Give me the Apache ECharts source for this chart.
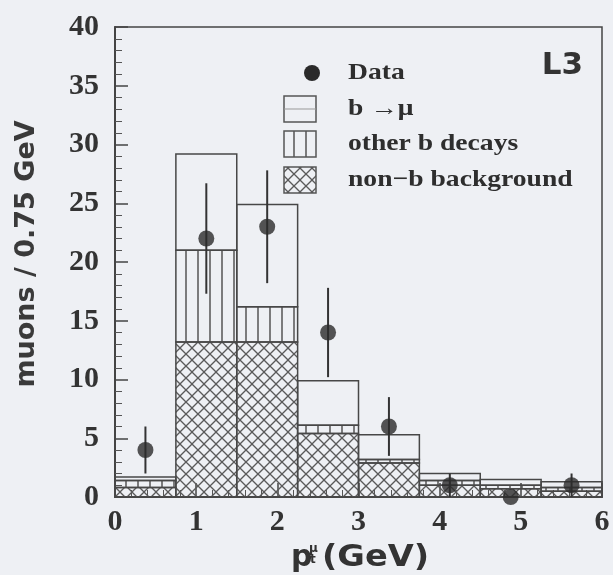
<!DOCTYPE html>
<html><head><meta charset="utf-8">
<script src="https://cdn.jsdelivr.net/npm/echarts@6/dist/echarts.min.js"></script>
<style>html,body{margin:0;padding:0;background:#eef0f4;} #c{width:613px;height:575px;}</style>
</head><body><div id="c"></div>
<script>
// ---- data ----
const binEdges = [0, 0.75, 1.5, 2.25, 3.0, 3.75, 4.5, 5.25, 6.0];
const nonB   = [0.8, 13.2, 13.2, 5.4, 2.9, 1.0, 0.7, 0.5];
const otherB = [0.6, 7.8, 3.0, 0.7, 0.3, 0.4, 0.3, 0.3];
const bToMu  = [0.3, 8.2, 8.7, 3.8, 2.1, 0.6, 0.5, 0.5];
const dataY   = [4, 22, 23, 14, 6, 1, 0, 1];
const dataErr = [2, 4.7, 4.8, 3.8, 2.5, 1, 0, 1];
const xTicks = [0, 1, 2, 3, 4, 5, 6];
const yTicks = [0, 5, 10, 15, 20, 25, 30, 35, 40];

// ---- hatch patterns ----
function crossCanvas() {
  const s = 12, c = document.createElement('canvas'); c.width = s; c.height = s;
  const g = c.getContext('2d'); g.strokeStyle = '#5a5a5a'; g.lineWidth = 1.3;
  g.beginPath(); g.moveTo(-1, s + 1); g.lineTo(s + 1, -1); g.stroke();
  g.beginPath(); g.moveTo(-1, -1); g.lineTo(s + 1, s + 1); g.stroke();
  return c;
}
function vertCanvas() {
  const c = document.createElement('canvas'); c.width = 12; c.height = 4;
  const g = c.getContext('2d'); g.strokeStyle = '#555'; g.lineWidth = 1.5;
  g.beginPath(); g.moveTo(6, 0); g.lineTo(6, 4); g.stroke();
  return c;
}
const crossPat = { image: crossCanvas(), repeat: 'repeat' };
const vertPat = { image: vertCanvas(), repeat: 'repeat' };

function layerData(layer, below) {
  return layer.map((v, i) => {
    const base = below.reduce((s, arr) => s + arr[i], 0);
    return [binEdges[i], binEdges[i + 1], base, base + v];
  });
}
function rectRender(fill) {
  return function (params, api) {
    const p0 = api.coord([api.value(0), api.value(2)]);
    const p1 = api.coord([api.value(1), api.value(3)]);
    return {
      type: 'rect',
      shape: { x: p0[0], y: p1[1], width: p1[0] - p0[0], height: p0[1] - p1[1] },
      style: { fill: fill, stroke: '#474747', lineWidth: 1.5 }
    };
  };
}
const centers = binEdges.slice(0, -1).map((e, i) => (e + binEdges[i + 1]) / 2);

const lblFont = { fontFamily: 'Liberation Serif', fontWeight: 'bold', fontSize: 30, color: '#333' };
const legFont = 'bold 23px "Liberation Serif"';
const sansB = '"DejaVu Sans"';

const chart = echarts.init(document.getElementById('c'), null, { renderer: 'canvas' });
chart.setOption({
  backgroundColor: '#eef0f4',
  animation: false,
  grid: { left: 115, right: 11, top: 27, bottom: 78, show: true, borderColor: '#444', borderWidth: 1.5, backgroundColor: 'transparent' },
  xAxis: {
    type: 'value', min: xTicks[0], max: xTicks[xTicks.length - 1], interval: 1,
    axisLine: { lineStyle: { color: '#444', width: 2 } },
    axisTick: { inside: true, length: 14, lineStyle: { color: '#444', width: 1.5 } },
    minorTick: { show: true, splitNumber: 5, length: 7, lineStyle: { color: '#555', width: 1 } },
    splitLine: { show: false },
    axisLabel: Object.assign({ margin: 10 }, lblFont)
  },
  yAxis: {
    type: 'value', min: yTicks[0], max: yTicks[yTicks.length - 1], interval: 5,
    axisLine: { lineStyle: { color: '#444', width: 2 } },
    axisTick: { inside: true, length: 13, lineStyle: { color: '#444', width: 1.5 } },
    minorTick: { show: true, splitNumber: 5, length: 7, lineStyle: { color: '#555', width: 1 } },
    splitLine: { show: false },
    axisLabel: Object.assign({ margin: 16 }, lblFont)
  },
  series: [
    { type: 'custom', name: 'non-b background', renderItem: rectRender(crossPat), data: layerData(nonB, []), encode: { x: [0, 1], y: [2, 3] }, z: 2 },
    { type: 'custom', name: 'other b decays', renderItem: rectRender(vertPat), data: layerData(otherB, [nonB]), encode: { x: [0, 1], y: [2, 3] }, z: 2 },
    { type: 'custom', name: 'b -> mu', renderItem: rectRender('rgba(0,0,0,0)'), data: layerData(bToMu, [nonB, otherB]), encode: { x: [0, 1], y: [2, 3] }, z: 2 },
    {
      type: 'custom', name: 'errors', z: 3,
      data: centers.map((c, i) => [c, dataY[i] - dataErr[i], dataY[i] + dataErr[i]]),
      encode: { x: 0, y: [1, 2] },
      renderItem: function (params, api) {
        const a = api.coord([api.value(0), api.value(1)]);
        const b = api.coord([api.value(0), api.value(2)]);
        return { type: 'line', shape: { x1: a[0], y1: a[1], x2: b[0], y2: b[1] }, style: { stroke: '#333', lineWidth: 2 } };
      }
    },
    {
      type: 'scatter', name: 'Data', z: 4, symbol: 'circle', symbolSize: 16, clip: false,
      itemStyle: { color: '#2a2a2a' },
      data: centers.map((c, i) => [c, dataY[i]])
    }
  ],
  graphic: [
    // y axis title
    { type: 'text', x: 27, y: 254, rotation: Math.PI / 2,
      style: { text: 'muons / 0.75 GeV', font: 'bold 27px ' + sansB, fill: '#3a3a3a', align: 'center', verticalAlign: 'middle' } },
    // x axis title
    { type: 'text', x: 291, y: 558, style: { text: 'p', font: 'bold 30px ' + sansB, fill: '#333', align: 'left', verticalAlign: 'middle' } },
    { type: 'text', x: 309, y: 549, style: { text: 'μ', font: 'bold 12px ' + sansB, fill: '#333', align: 'left', verticalAlign: 'middle' } },
    { type: 'text', x: 310, y: 560, style: { text: 't', font: 'bold 12px ' + sansB, fill: '#333', align: 'left', verticalAlign: 'middle' } },
    { type: 'text', x: 322, y: 558, scaleX: 1.12, style: { text: '(GeV)', font: 'bold 30px ' + sansB, fill: '#333', align: 'left', verticalAlign: 'middle' } },
    // L3 label
    { type: 'text', x: 583, y: 66, style: { text: 'L3', font: 'bold 31px ' + sansB, fill: '#333', align: 'right', verticalAlign: 'middle' } },
    // legend
    { type: 'circle', shape: { cx: 312, cy: 73, r: 8 }, style: { fill: '#2a2a2a' } },
    { type: 'text', x: 348, y: 73, scaleX: 1.2, style: { text: 'Data', font: legFont, fill: '#2e2e2e', verticalAlign: 'middle' } },
    { type: 'rect', shape: { x: 284, y: 96, width: 32, height: 26 }, style: { fill: 'rgba(0,0,0,0)', stroke: '#555', lineWidth: 1.5 } },
    { type: 'line', shape: { x1: 284, y1: 109, x2: 316, y2: 109 }, style: { stroke: '#999', lineWidth: 1 } },
    { type: 'text', x: 348, y: 109, scaleX: 1.2, style: { text: 'b →μ', font: legFont, fill: '#2e2e2e', verticalAlign: 'middle' } },
    { type: 'rect', shape: { x: 284, y: 131, width: 32, height: 26 }, style: { fill: vertPat, stroke: '#555', lineWidth: 1.5 } },
    { type: 'text', x: 348, y: 144, scaleX: 1.2, style: { text: 'other b decays', font: legFont, fill: '#2e2e2e', verticalAlign: 'middle' } },
    { type: 'rect', shape: { x: 284, y: 167, width: 32, height: 26 }, style: { fill: crossPat, stroke: '#555', lineWidth: 1.5 } },
    { type: 'text', x: 348, y: 180, scaleX: 1.2, style: { text: 'non−b background', font: legFont, fill: '#2e2e2e', verticalAlign: 'middle' } }
  ]
});
</script></body></html>
